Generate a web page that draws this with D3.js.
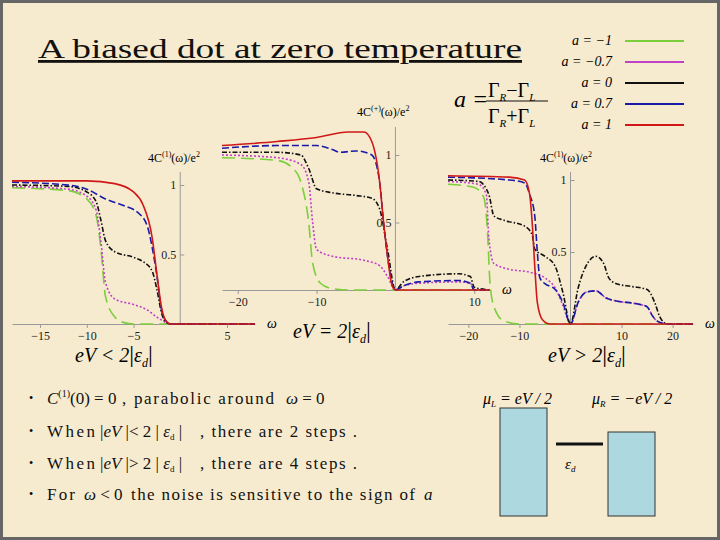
<!DOCTYPE html>
<html><head><meta charset="utf-8">
<script src="https://cdn.jsdelivr.net/npm/d3@7"></script>
<style>body{margin:0;background:#f7ebcf}svg{display:block}</style>
</head><body><svg id="c" width="720" height="540"></svg>
<script>
const legendOrder=["a = −1","a = −0.7","a = 0","a = 0.7","a = 1"];
const colors={"a = 1":"#d01818","a = 0.7":"#1a1aa8","a = 0":"#111","a = −0.7":"#c040c8","a = −1":"#7ccf3c"};
const dashes={"a = 1":null,"a = 0.7":"7,3","a = 0":"5,2,1.5,2","a = −0.7":"2,2","a = −1":"13,6"};
// Panel 1: eV < 2|eps_d|
const p1red=[[-18,1.03],[-10,1.03],[-7,1.01],[-5,0.95],[-4,0.86],[-3,0.62],[-2.5,0.36],[-2,0.12],[-1.5,0.02],[-1,0],[8,0]];
const p1blue=[[-18,1.02],[-12,1.0],[-10,0.97],[-8,0.9],[-6,0.85],[-4.5,0.8],[-3.5,0.7],[-3,0.55],[-2.5,0.35],[-2,0.1],[-1.5,0.02],[-1,0],[8,0]];
const p1black=[[-18,1.0],[-12,0.99],[-10,0.95],[-9,0.88],[-8.5,0.75],[-8,0.6],[-7,0.52],[-5,0.48],[-4,0.45],[-3,0.38],[-2.5,0.25],[-2,0.08],[-1.5,0.01],[-1,0],[8,0]];
const p1mag=[[-18,0.99],[-12,0.97],[-10,0.92],[-9,0.82],[-8.5,0.6],[-8,0.3],[-7,0.18],[-5,0.14],[-3.5,0.1],[-2.5,0.05],[-1.5,0.01],[-1,0],[8,0]];
const p1green=[[-18,0.98],[-12,0.96],[-10,0.9],[-9,0.78],[-8.5,0.55],[-8,0.2],[-7,0.05],[-6,0.01],[-5,0],[8,0]];
// Panel 2: eV = 2|eps_d|
const p2red=[[-22,1.07],[-15,1.1],[-10,1.13],[-6,1.17],[-4,1.17],[-3,1.1],[-2,0.8],[-1.5,0.5],[-1,0.25],[-0.5,0.05],[0,0],[12,0]];
const p2blue=[[-22,1.05],[-15,1.07],[-10,1.07],[-8,1.04],[-7,1.02],[-5,1.03],[-3,1.0],[-2,0.8],[-1.5,0.5],[-1,0.25],[0,0],[1,0.03],[3,0.06],[8,0.07],[9.5,0.05],[10,0],[12,0]];
const p2black=[[-22,1.02],[-15,1.02],[-12,1.0],[-11,0.9],[-10,0.75],[-8,0.72],[-5,0.7],[-3,0.68],[-2,0.6],[-1,0.3],[0,0],[1,0.06],[3,0.1],[8,0.12],[9.5,0.1],[10,0.02],[12,0]];
const p2mag=[[-22,1.0],[-15,0.98],[-12,0.93],[-11,0.8],[-10.5,0.5],[-10,0.3],[-8,0.25],[-4,0.22],[-2,0.18],[-1,0.1],[0,0],[1,0.03],[3,0.05],[8,0.06],[9.5,0.05],[10,0],[12,0]];
const p2green=[[-22,0.98],[-15,0.96],[-13,0.9],[-12,0.8],[-11,0.5],[-10.5,0.2],[-9.5,0.05],[-8,0.01],[-6,0],[12,0]];
// Panel 3: eV > 2|eps_d|
const p3red=[[-24,1.03],[-12,1.02],[-9,1.0],[-8,0.9],[-7.5,0.7],[-7,0.4],[-6.5,0.15],[-5.5,0.03],[-4,0],[24,0]];
const p3blue=[[-24,1.02],[-12,1.0],[-9,0.98],[-8,0.9],[-7,0.75],[-6.5,0.5],[-6,0.32],[-5,0.28],[-3,0.24],[-1.5,0.15],[0,0],[1.5,0.15],[3,0.22],[5,0.23],[7,0.18],[9,0.16],[13,0.14],[15,0.12],[16,0.06],[17,0.02],[19,0],[24,0]];
const p3black=[[-24,1.0],[-18,0.99],[-16,0.9],[-15,0.75],[-13,0.72],[-9,0.68],[-7.5,0.62],[-7,0.52],[-5,0.47],[-3,0.4],[-1.5,0.22],[0,0],[1.5,0.25],[3,0.4],[5,0.47],[6.5,0.42],[7.5,0.32],[9,0.28],[12,0.26],[15,0.24],[16.5,0.15],[17.5,0.05],[19,0],[24,0]];
const p3mag=[[-24,0.99],[-18,0.97],[-16.5,0.9],[-16,0.6],[-15,0.42],[-12,0.38],[-8,0.36],[-5,0.32],[-3,0.25],[-1.5,0.13],[0,0],[1.5,0.15],[3,0.22],[5,0.23],[7,0.18],[9,0.16],[13,0.14],[15,0.12],[16,0.06],[17,0.02],[19,0],[24,0]];
const p3green=[[-24,0.97],[-19,0.95],[-17,0.88],[-16.2,0.6],[-15.8,0.3],[-15,0.12],[-13,0.02],[-10,0],[24,0]];
const p1xTicks=[-15,-10,-5,5], p2xTicks=[-20,-10,10], p3xTicks=[-20,-10,10,20];
const yTicks=[0.5,1];

const svg=d3.select("#c");
svg.append("rect").attr("x",1.5).attr("y",1.5).attr("width",717).attr("height",537).attr("fill","#f7ebcf").attr("stroke","#666").attr("stroke-width",3);
const fs="Liberation Serif";
const panels=[
 {dom:[-18,8],xr:[12,255],y0:324,y1:185,yTop:172,ticks:p1xTicks,
  data:[p1green,p1mag,p1black,p1blue,p1red],ylab:"(1)",ylx:148,yly:162,capText:"eV < 2",capx:75,capy:362},
 {dom:[-22,12],xr:[222,490],y0:290,y1:155,yTop:127,ticks:p2xTicks,
  data:[p2green,p2mag,p2black,p2blue,p2red],ylab:"(+)",ylx:357,yly:116,capText:"eV = 2",capx:293,capy:338},
 {dom:[-24,24],xr:[448,693],y0:324,y1:180,yTop:172,ticks:p3xTicks,
  data:[p3green,p3mag,p3black,p3blue,p3red],ylab:"(1)",ylx:540,yly:162,capText:"eV > 2",capx:548,capy:362}
];
const order=["a = −1","a = −0.7","a = 0","a = 0.7","a = 1"];
panels.forEach(p=>{
  const x=d3.scaleLinear().domain(p.dom).range(p.xr);
  const y=d3.scaleLinear().domain([0,1]).range([p.y0,p.y1]);
  const g=svg.append("g");
  const gx=g.append("g").attr("transform",`translate(0,${p.y0})`)
    .call(d3.axisBottom(x).tickValues(p.ticks).tickSize(4).tickSizeOuter(0).tickFormat(d=>d<0?"−"+(-d):d));
  const gy=g.append("g").attr("transform",`translate(${x(0)},0)`)
    .call(d3.axisLeft(y).tickValues(yTicks).tickSize(-4).tickSizeOuter(0).tickFormat(d=>d));
  gy.select(".domain").attr("d",`M0,${p.y0}V${p.yTop}`);
  [gx,gy].forEach(a=>{a.selectAll("path,line").attr("stroke","#999");
    a.selectAll("text").attr("font-family",fs).attr("font-size",12).attr("fill","#222");});
  gy.selectAll("text").attr("x",-4);
  const line=d3.line().x(d=>x(d[0])).y(d=>y(d[1])).curve(d3.curveMonotoneX);
  p.data.forEach((s,i)=>{
    const n=order[i];
    g.append("path").attr("d",line(s)).attr("fill","none").attr("stroke",colors[n])
     .attr("stroke-width",1.6).attr("stroke-dasharray",dashes[n]);
  });
  g.append("text").attr("x",p.xr[1]+12).attr("y",p.y0+4).attr("font-family",fs).attr("font-style","italic").attr("font-size",14).text("ω");
  const t=g.append("text").attr("x",p.ylx).attr("y",p.yly).attr("font-family",fs).attr("font-size",12);
  t.append("tspan").text("4C"); t.append("tspan").attr("font-size",8).attr("dy",-5).text(p.ylab);
  t.append("tspan").attr("dy",5).text("(ω)/e"); t.append("tspan").attr("font-size",8).attr("dy",-5).text("2");
  const c=g.append("text").attr("x",p.capx).attr("y",p.capy).attr("font-family",fs).attr("font-style","italic").attr("font-size",20);
  c.append("tspan").text(p.capText);
  c.append("tspan").attr("font-style","normal").attr("font-size",24).text("|");
  c.append("tspan").text("ε"); c.append("tspan").attr("font-size",12).attr("dy",5).text("d");
  c.append("tspan").attr("font-style","normal").attr("font-size",24).attr("dy",-5).text("|");
});

svg.append("text").attr("x",38).attr("y",58).attr("font-family",fs).attr("font-size",28).attr("fill","#111")
  .attr("text-decoration","underline").attr("textLength",484).attr("lengthAdjust","spacingAndGlyphs").text("A biased dot at zero temperature");
legendOrder.forEach((n,i)=>{
  const yy=41+i*21;
  svg.append("text").attr("x",612).attr("y",yy+4).attr("text-anchor","end").attr("font-family",fs).attr("font-size",14).attr("font-style","italic").text(n);
  svg.append("line").attr("x1",625).attr("x2",684).attr("y1",yy).attr("y2",yy).attr("stroke",colors[n]).attr("stroke-width",2);
});
svg.append("text").attr("x",454).attr("y",107).attr("font-family",fs).attr("font-style","italic").attr("font-size",24).text("a =");
svg.append("text").attr("x",488).attr("y",97).attr("font-family",fs).attr("font-size",20).html('Γ<tspan font-size="11" dy="4" font-style="italic">R</tspan><tspan dy="-4">−Γ</tspan><tspan font-size="11" dy="4" font-style="italic">L</tspan>');
svg.append("line").attr("x1",486).attr("x2",548).attr("y1",101).attr("y2",101).attr("stroke","#111");
svg.append("text").attr("x",488).attr("y",123).attr("font-family",fs).attr("font-size",20).html('Γ<tspan font-size="11" dy="4" font-style="italic">R</tspan><tspan dy="-4">+Γ</tspan><tspan font-size="11" dy="4" font-style="italic">L</tspan>');
const pieces=[
 [404,47,'<tspan font-style="italic">C</tspan><tspan font-size="10" dy="-7">(1)</tspan><tspan dy="7">(0) = 0</tspan>',null],
 [404,122,', parabolic around',152],
 [404,286,'<tspan font-style="italic">ω</tspan> = 0',null],
 [437,47,'When',48],[437,100,'|<tspan font-style="italic">eV</tspan> |&lt; 2 | <tspan font-style="italic">ε</tspan><tspan font-size="9" dy="3">d</tspan><tspan dy="-3"> |</tspan>',null],
 [437,200,', there are 2 steps .',157],
 [469,47,'When',48],[469,100,'|<tspan font-style="italic">eV</tspan> |&gt; 2 | <tspan font-style="italic">ε</tspan><tspan font-size="9" dy="3">d</tspan><tspan dy="-3"> |</tspan>',null],
 [469,200,', there are 4 steps .',157],
 [500,47,'For',28],[500,84,'<tspan font-style="italic">ω</tspan> &lt; 0',null],
 [500,131,'the noise is sensitive to the sign of',284],[500,424,'<tspan font-style="italic">a</tspan>',null]];
[404,437,469,500].forEach(yy=>svg.append("text").attr("x",29).attr("y",yy-2).attr("font-family",fs).attr("font-size",12).text("•"));
pieces.forEach(([yy,xx,h,len])=>{const t=svg.append("text").attr("x",xx).attr("y",yy).attr("font-family",fs).attr("font-size",17).attr("fill","#111").html(h);
  if(len) t.attr("textLength",len).attr("lengthAdjust","spacing");});
svg.append("rect").attr("x",500).attr("y",408).attr("width",47).attr("height",108).attr("fill","#add8e0").attr("stroke","#333");
svg.append("rect").attr("x",608).attr("y",432).attr("width",47).attr("height",84).attr("fill","#add8e0").attr("stroke","#333");
svg.append("line").attr("x1",556).attr("x2",603).attr("y1",444).attr("y2",444).attr("stroke","#111").attr("stroke-width",3);
svg.append("text").attr("x",565).attr("y",469).attr("font-family",fs).attr("font-style","italic").attr("font-size",15).html('ε<tspan font-size="9" dy="3">d</tspan>');
svg.append("text").attr("x",483).attr("y",404).attr("font-family",fs).attr("font-style","italic").attr("font-size",16).html('μ<tspan font-size="9" dy="3">L</tspan><tspan dy="-3"> = eV / 2</tspan>');
svg.append("text").attr("x",592).attr("y",404).attr("font-family",fs).attr("font-style","italic").attr("font-size",16).html('μ<tspan font-size="9" dy="3">R</tspan><tspan dy="-3"> = −eV / 2</tspan>');
</script></body></html>
